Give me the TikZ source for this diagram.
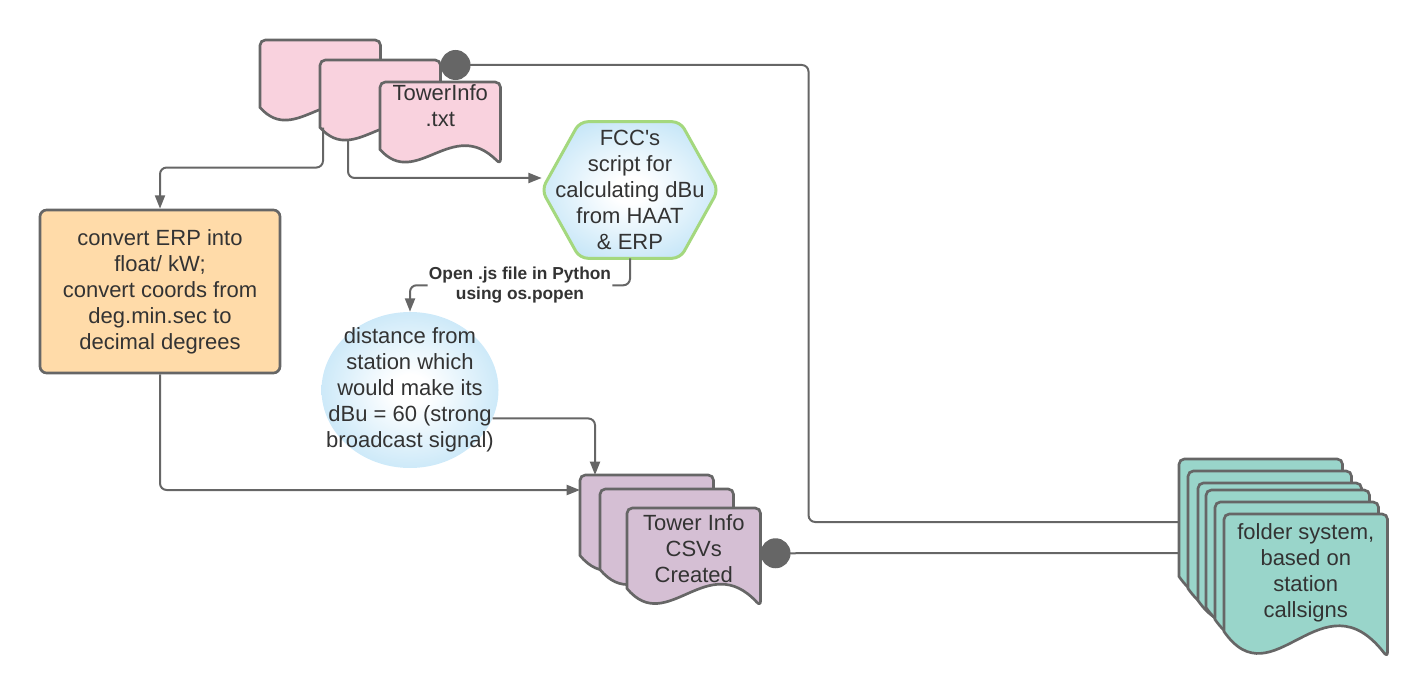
\documentclass[tikz,border=0pt]{standalone}
\usepackage{fontspec}
\setmainfont{Liberation Sans}
\usepackage{xcolor}
\usetikzlibrary{arrows.meta,positioning,calc,shapes.geometric}
\definecolor{lcgray}{HTML}{666666}
\definecolor{lctext}{HTML}{333333}
\definecolor{lcpink}{HTML}{F9D2DE}
\definecolor{lcorange}{HTML}{FFDBA9}
\definecolor{lcpurple}{HTML}{D5BFD4}
\definecolor{lcteal}{HTML}{99D5CA}
\definecolor{lcgreen}{HTML}{A4D87E}
\definecolor{lcblue}{HTML}{C1E4F7}
\pgfdeclareradialshading{glow}{\pgfpoint{0bp}{0bp}}{color(0bp)=(white); color(5bp)=(white); color(30bp)=(lcblue); color(50bp)=(lcblue)}
\pgfdeclarelayer{background}
\pgfsetlayers{background,main}
% document outline under a (text) node: flat top, wavy bottom
\newcommand{\docshape}[2]{%
  \begin{pgfonlayer}{background}
  \filldraw[docline, fill=#2] let \p1=(#1.south west), \p2=(#1.north east),
      \n1={\x2-\x1}, \n2={\y2-\y1} in
    (\p1) [rounded corners=4pt] -- (\x1,\y2) -- (\p2) -- (\x2,\y1-0.22*\n2) [sharp corners]
    .. controls (\x1+0.6*\n1,\y1+0.5*\n2) and (\x1+0.3*\n1,\y1-0.6*\n2) .. cycle;
  \end{pgfonlayer}}
% hexagon outline under a (text) node
\newcommand{\hexshape}[1]{%
  \begin{pgfonlayer}{background}
  \path[hexline] let \p1=(#1.south west), \p2=(#1.north east) in
    (#1.west) -- (\x1+28.5pt,\y2) -- (\x2-28.5pt,\y2) -- (#1.east)
    -- (\x2-28.5pt,\y1) -- (\x1+28.5pt,\y1) -- cycle;
  \end{pgfonlayer}}

\begin{document}
\begin{tikzpicture}[
  x=0.75pt, y=-0.75pt,
  every node/.style={text=lctext, font=\fontsize{16.5}{19.5}\selectfont},
  doc/.style={inner sep=0pt, align=center, minimum width=90pt, minimum height=50.25pt},
  csvdoc/.style={doc, minimum width=99.75pt, minimum height=60pt},
  folddoc/.style={doc, minimum width=122.25pt, minimum height=87.75pt},
  docline/.style={draw=lcgray, line width=2pt},
  proc/.style={draw=lcgray, line width=2pt, rounded corners=5pt, fill=lcorange, align=center, minimum width=180pt, minimum height=122.25pt},
  script/.style={align=center, minimum width=132pt, minimum height=102pt, inner sep=0pt},
  hexline/.style={draw=lcgreen, line width=2.25pt, rounded corners=6pt, shading=glow},
  result/.style={ellipse, shading=glow, align=center, minimum width=132.75pt, minimum height=117pt, inner xsep=-20pt, inner ysep=-10pt},
  arrow/.style={-{Triangle[length=10pt,width=7.5pt]}, draw=lcgray, line width=1.5pt, rounded corners=5pt},
  dotline/.style={{Circle[length=22.5pt]}-, draw=lcgray, line width=1.5pt, rounded corners=5pt},
  lbl/.style={fill=white, font=\bfseries\fontsize{13}{15}\selectfont, align=center, inner sep=1pt}
]
\useasboundingbox (0,0) rectangle (1426,695);

% tower info input files
\node[doc, anchor=north west] (docA) at (260,40) {};
\docshape{docA}{lcpink}
\node[doc, anchor=north west] (docB) at (320,60) {};
\docshape{docB}{lcpink}
\node[doc, anchor=north west] (docC) at (380,82) {TowerInfo\\.txt\\[-4pt]};
\docshape{docC}{lcpink}

\node[proc] (erp) at (160,291.5) {convert ERP into\\float/ kW;\\convert coords from\\deg.min.sec to\\decimal degrees};
\node[script] (hex) at (630,190) {FCC\textquotesingle s\\script for\\calculating dBu\\from HAAT\\\& ERP};
\hexshape{hex}
\node[result] (dist) at (410,390) {distance from\\station which\\would make its\\dBu = 60 (strong\\broadcast signal)};

% output files
\node[csvdoc, anchor=north west] (csv1) at (580,475) {};
\docshape{csv1}{lcpurple}
\node[csvdoc, anchor=north west] (csv2) at (600,489) {};
\docshape{csv2}{lcpurple}
\node[csvdoc, anchor=north west] (csv3) at (627,508) {Tower Info\\CSVs\\Created};
\docshape{csv3}{lcpurple}

\foreach \i/\fx/\fy in {1/1179/459, 2/1188/471, 3/1198/483, 4/1206/490, 5/1215/502} {
  \node[folddoc, anchor=north west] (fold\i) at (\fx,\fy) {};
  \docshape{fold\i}{lcteal}
}
\node[folddoc, anchor=north west] (fold6) at (1224,514) {folder system,\\based on\\station\\callsigns};
\docshape{fold6}{lcteal}

% connectors
\draw[arrow] ([xshift=2.25pt]docB.south west) -- ++(0,40) -| (erp.north);
\draw[arrow] ([xshift=21pt,yshift=-9.75pt]docB.south west) |- ([yshift=9pt]hex.west);
\draw[arrow] (hex.south) -- ++(0,27) -| node[lbl, pos=0.25] {Open .js file in Python\\using os.popen} (dist.north);
\draw[arrow] (dist.-19) -| ([xshift=11.25pt]csv1.north west);
\draw[arrow] (erp.south) |- ([yshift=-11.25pt]csv1.north west);
\draw[dotline] ([yshift=-3.75pt]docB.north east) -- ++(368,0) |- ([yshift=-47.25pt]fold1.north west);
\draw[dotline] ([yshift=-3.75pt]csv3.east) -- ([yshift=-70.5pt]fold1.north west);
\end{tikzpicture}
\end{document}
